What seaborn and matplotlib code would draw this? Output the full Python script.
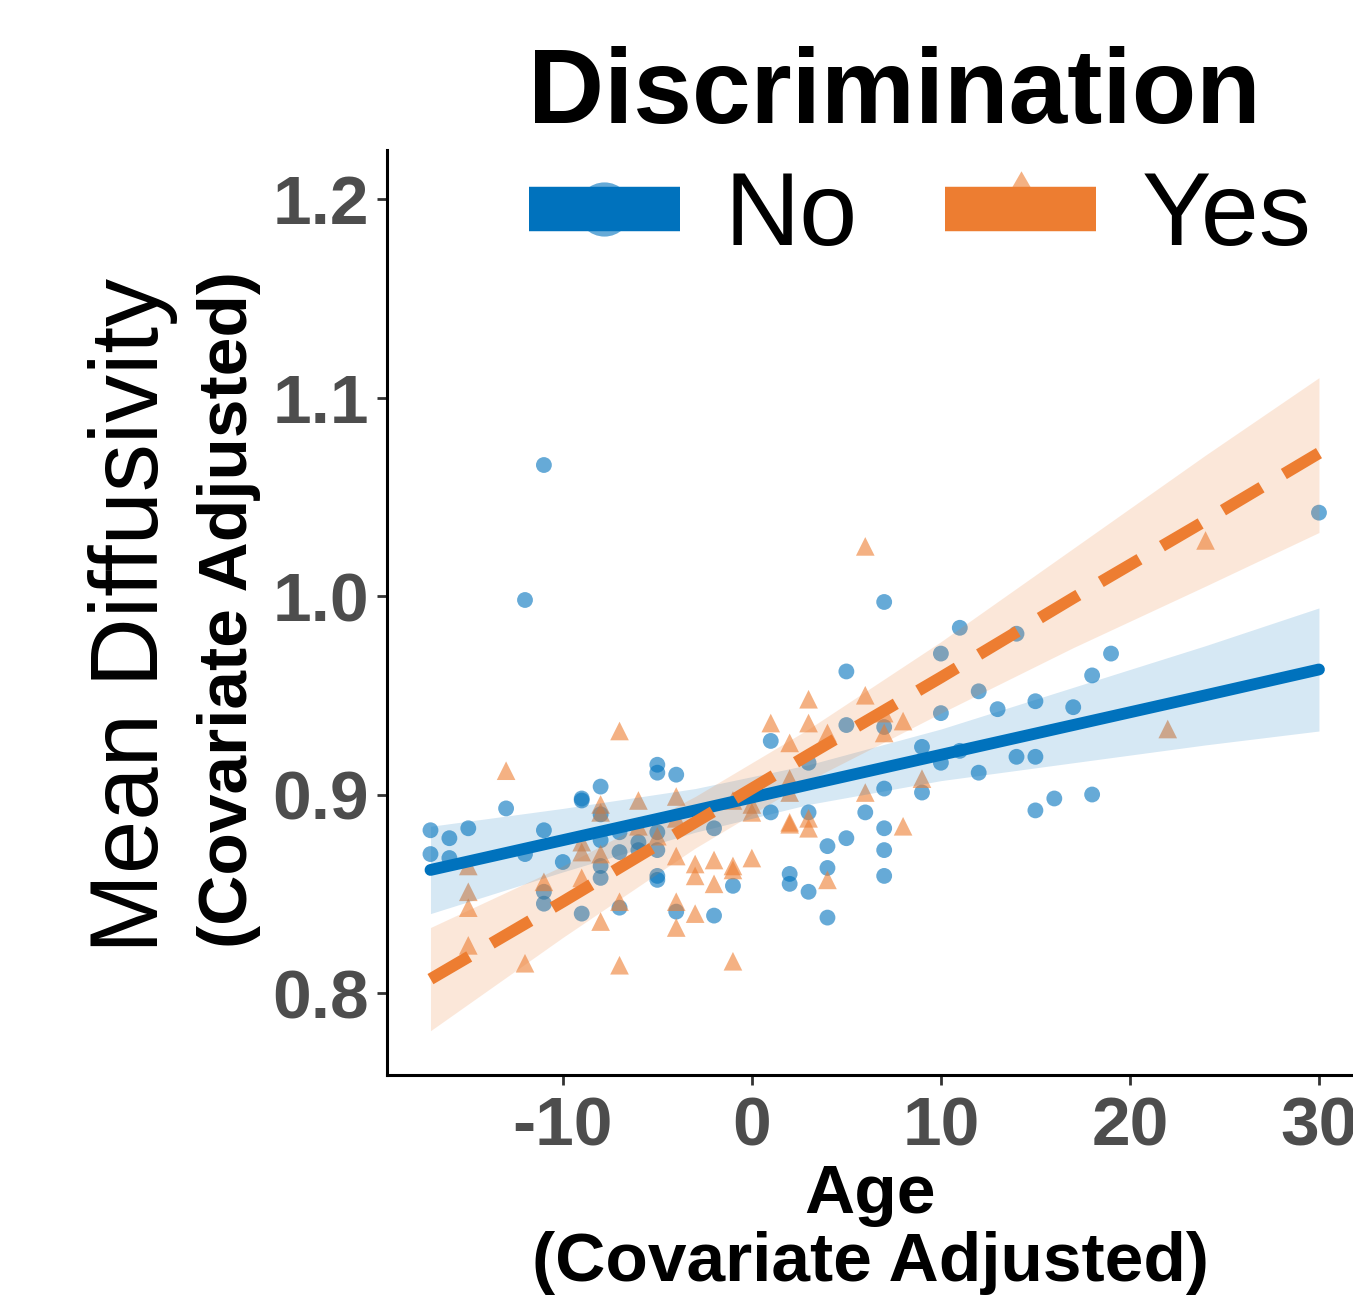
import numpy as np
import pandas as pd
import matplotlib
matplotlib.use("Agg")
import matplotlib.pyplot as plt
from matplotlib.lines import Line2D
import seaborn as sns

# ---- data ----
age_no = [-17, -17, -16, -16, -15, -13, -12, -12, -11, -11, -11, -11, -10,
          -9, -9, -9, -8, -8, -8, -8, -8, -7, -7, -7, -6, -6,
          -5, -5, -5, -5, -5, -5, -4, -4, -2, -2, -1, 1, 1, 2, 2,
          3, 3, 3, 4, 4, 4, 5, 5, 5, 6, 7, 7, 7, 7, 7, 7,
          9, 9, 10, 10, 10, 11, 11, 12, 12, 13, 14, 14, 15, 15, 15,
          16, 17, 18, 18, 19, 30]
md_no = [0.882, 0.870, 0.878, 0.868, 0.883, 0.893, 0.870, 0.998, 1.066, 0.882, 0.851, 0.845, 0.866,
         0.898, 0.897, 0.840, 0.904, 0.890, 0.877, 0.864, 0.858, 0.881, 0.871, 0.843, 0.876, 0.872,
         0.915, 0.911, 0.881, 0.872, 0.859, 0.857, 0.910, 0.841, 0.883, 0.839, 0.854, 0.927, 0.891, 0.860, 0.855,
         0.916, 0.891, 0.851, 0.874, 0.863, 0.838, 0.962, 0.935, 0.878, 0.891, 0.997, 0.934, 0.903, 0.883, 0.872, 0.859,
         0.924, 0.901, 0.971, 0.941, 0.916, 0.984, 0.922, 0.952, 0.911, 0.943, 0.981, 0.919, 0.947, 0.919, 0.892,
         0.898, 0.944, 0.960, 0.900, 0.971, 1.042]

age_yes = [-15, -15, -15, -15, -13, -12, -11, -9, -9, -9, -8, -8, -8, -8,
           -7, -7, -7, -6, -6, -5, -4, -4, -4, -4, -4, -3, -3, -3, -2, -2,
           -1, -1, -1, -1, 0, 0, 0, 1, 2, 2, 2, 2, 2, 3, 3, 3, 3, 4, 4,
           6, 6, 6, 7, 7, 8, 8, 9, 22, 24]
md_yes = [0.864, 0.851, 0.843, 0.824, 0.912, 0.815, 0.856, 0.876, 0.871, 0.858, 0.895, 0.891, 0.870, 0.836,
          0.932, 0.846, 0.814, 0.897, 0.884, 0.879, 0.899, 0.888, 0.869, 0.846, 0.833, 0.865, 0.859, 0.840, 0.867, 0.855,
          0.897, 0.864, 0.862, 0.816, 0.895, 0.891, 0.868, 0.936, 0.926, 0.908, 0.901, 0.886, 0.885, 0.948, 0.936, 0.888, 0.883, 0.931, 0.857,
          1.025, 0.950, 0.901, 0.941, 0.931, 0.937, 0.884, 0.908, 0.933, 1.028]

# model fit and 95% band
fit_age = [-17, -10, -3, 3, 10, 17, 24, 30]
fit_no = [0.862, 0.877, 0.892, 0.905, 0.920, 0.935, 0.950, 0.963]
lo_no = [0.840, 0.861, 0.881, 0.895, 0.907, 0.916, 0.925, 0.932]
hi_no = [0.884, 0.893, 0.903, 0.915, 0.933, 0.954, 0.975, 0.994]
fit_yes = [0.807, 0.846, 0.886, 0.920, 0.959, 0.999, 1.038, 1.072]
lo_yes = [0.781, 0.828, 0.873, 0.907, 0.941, 0.974, 1.005, 1.032]
hi_yes = [0.833, 0.864, 0.899, 0.933, 0.977, 1.024, 1.071, 1.110]

groups = ["No", "Yes"]
x_ticks = [-10, 0, 10, 20, 30]
y_ticks = [0.8, 0.9, 1.0, 1.1, 1.2]

blue = "#0072BD"
orange = "#ED7D31"

pts_no = pd.DataFrame({"age": age_no, "md": md_no})
pts_yes = pd.DataFrame({"age": age_yes, "md": md_yes})
fit = pd.DataFrame({"age": fit_age, "no": fit_no, "lo_no": lo_no, "hi_no": hi_no,
                    "yes": fit_yes, "lo_yes": lo_yes, "hi_yes": hi_yes})

sns.set_style("white")
plt.rcParams["font.family"] = ["Liberation Sans", "DejaVu Sans"]
plt.rcParams["text.color"] = "black"
plt.rcParams["axes.labelcolor"] = "black"
plt.rcParams["axes.unicode_minus"] = False

fig = plt.figure(figsize=(13.53, 12.95), dpi=100)
ax = fig.add_axes([387 / 1353, 1 - 1075 / 1295, 1 - 387 / 1353, (1075 - 150) / 1295])

# points
sns.scatterplot(data=pts_no, x="age", y="md", color=blue, marker="o", s=130,
                alpha=0.6, edgecolor="none", ax=ax)
sns.scatterplot(data=pts_yes, x="age", y="md", color=orange, marker="^", s=180,
                alpha=0.6, edgecolor="none", ax=ax)

# confidence bands
ax.fill_between(fit["age"], fit["lo_no"], fit["hi_no"], color=blue, alpha=0.16, lw=0)
ax.fill_between(fit["age"], fit["lo_yes"], fit["hi_yes"], color=orange, alpha=0.18, lw=0)

# fitted lines
sns.lineplot(data=fit, x="age", y="no", color=blue, lw=8.5, ax=ax)
sns.lineplot(data=fit, x="age", y="yes", color=orange, lw=8.5, ax=ax)
ax.lines[-1].set_dashes((3.8, 2.2))
ax.lines[-1].set_dash_capstyle("butt")

ax.set_xlim(-19.3, 31.8)
ax.set_ylim(0.7587, 1.2247)
ax.set_xticks(x_ticks)
ax.set_yticks(y_ticks)
ax.set_yticklabels([f"{v:.1f}" for v in y_ticks])
ax.tick_params(axis="both", labelsize=50, labelcolor="#4D4D4D", color="#333333",
               length=7, width=2, pad=8, bottom=True, left=True)
ax.tick_params(axis="y", pad=6)
for lab in ax.get_xticklabels() + ax.get_yticklabels():
    lab.set_fontweight("bold")
for side in ["top", "right"]:
    ax.spines[side].set_visible(False)
for side in ["left", "bottom"]:
    ax.spines[side].set_color("black")
    ax.spines[side].set_linewidth(2.2)

ax.set_xlabel("Age\n(Covariate Adjusted)", fontsize=50, fontweight="bold",
              linespacing=1.08, labelpad=2)
ax.set_ylabel("")
fig.text(133 / 1353, 1 - 615 / 1295, "Mean Diffusivity", rotation=90, fontsize=69,
         ha="center", va="center")
fig.text(229 / 1353, 1 - 610 / 1295, "(Covariate Adjusted)", rotation=90, fontsize=50,
         fontweight="bold", ha="center", va="center")

# legend
tri = [(0, 1), (-0.866, -0.5), (0.866, -0.5)]
handles = []
for c, m, ms in [(blue, "o", 39), (orange, tri, 55)]:
    mk = Line2D([], [], ls="none", marker=m, markersize=ms, color=c, alpha=0.6, mec="none")
    ln = Line2D([], [], lw=32, color=c, solid_capstyle="butt")
    handles.append((mk, ln))
fig.text(894 / 1353, 1 - 95 / 1295, "Discrimination", fontsize=76, fontweight="bold",
         ha="center", va="center")
fig.legend(handles, groups, loc="center", bbox_to_anchor=(920 / 1353, 1 - 219 / 1295),
           ncol=2, frameon=False, fontsize=75,
           handlelength=1.45, handletextpad=0.43, columnspacing=0.84,
           borderpad=0, labelspacing=0)

fig.savefig("out.png", dpi=100)
